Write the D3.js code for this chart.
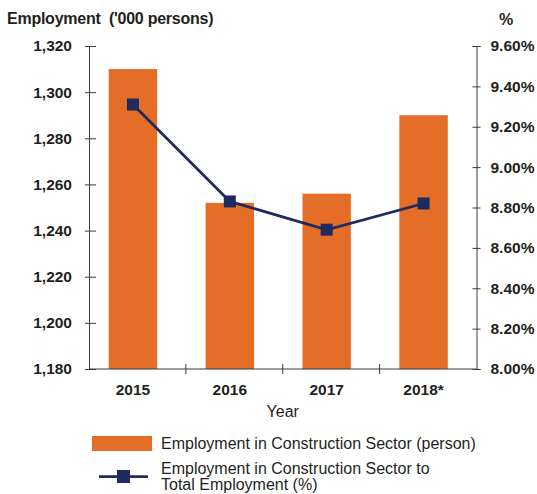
<!DOCTYPE html>
<html>
<head>
<meta charset="utf-8">
<script src="https://cdn.jsdelivr.net/npm/d3@7/dist/d3.min.js"></script>
<style>
  html, body { margin: 0; padding: 0; background: #ffffff; }
  svg { display: block; font-family: "Liberation Sans", Arial, sans-serif; }
</style>
</head>
<body>
<svg id="chart" width="537" height="494"></svg>
<script>
// Construction-sector employment by year
const years = ["2015", "2016", "2017", "2018*"];
const employment = [1310, 1252, 1256, 1290];          // '000 persons
const sharePct = [9.31, 8.83, 8.69, 8.82];            // % of total employment
const leftTicks = [1180, 1200, 1220, 1240, 1260, 1280, 1300, 1320];
const rightTicks = [8.0, 8.2, 8.4, 8.6, 8.8, 9.0, 9.2, 9.4, 9.6];

const barColor = "#E46D27";
const lineColor = "#1F2A5E";
const inkColor = "#231F20";
const axisColor = "#3a3a3a";
const tickFont = "15.5px";

const svg = d3.select("#chart");

const plot = { left: 89, right: 476.5, top: 46, bottom: 369 };

const x = d3.scaleBand().domain(years).range([plot.left, plot.right]).padding(0);
const yL = d3.scaleLinear().domain([1180, 1320]).range([plot.bottom, plot.top]);
const yR = d3.scaleLinear().domain([8.0, 9.6]).range([plot.bottom, plot.top]);

// marks sit slightly left of each category's centre
const shift = -4.5;
const cx = d => x(d) + x.bandwidth() / 2 + shift;
const barW = x.bandwidth() * 0.5;

const rows = years.map((y, i) => ({ year: y, emp: employment[i], pct: sharePct[i] }));

// bars
svg.append("g")
  .selectAll("rect")
  .data(rows)
  .join("rect")
  .attr("x", d => cx(d.year) - barW / 2)
  .attr("y", d => yL(d.emp))
  .attr("width", barW)
  .attr("height", d => yL(1180) - yL(d.emp))
  .attr("fill", barColor);

// left axis
const gL = svg.append("g")
  .attr("transform", `translate(${plot.left},0)`)
  .call(d3.axisLeft(yL).tickValues(leftTicks).tickFormat(d3.format(",")).tickSize(4).tickPadding(13));
gL.select(".domain").attr("stroke", axisColor);
gL.selectAll(".tick line").attr("x1", 7).attr("x2", -4).attr("stroke", axisColor);
gL.selectAll(".tick text")
  .attr("fill", inkColor).style("font-size", tickFont).style("font-weight", "bold")
  .style("font-family", "'Liberation Sans', Arial, sans-serif");

// right axis
const gR = svg.append("g")
  .attr("transform", `translate(${plot.right},0)`)
  .call(d3.axisRight(yR).tickValues(rightTicks).tickFormat(d => d.toFixed(2) + "%").tickSize(4).tickPadding(10));
gR.select(".domain").attr("stroke", axisColor);
gR.selectAll(".tick line").attr("x1", -4).attr("x2", 4).attr("stroke", axisColor);
gR.selectAll(".tick text")
  .attr("fill", inkColor).style("font-size", tickFont).style("font-weight", "bold")
  .style("font-family", "'Liberation Sans', Arial, sans-serif");

// bottom axis with ticks at category boundaries
const gB = svg.append("g");
gB.append("line")
  .attr("x1", plot.left).attr("x2", plot.right)
  .attr("y1", plot.bottom).attr("y2", plot.bottom)
  .attr("stroke", axisColor);
const bounds = years.slice(1).map(d => x(d));
gB.selectAll("line.tk")
  .data(bounds)
  .join("line")
  .attr("class", "tk")
  .attr("x1", d => d).attr("x2", d => d)
  .attr("y1", plot.bottom - 5).attr("y2", plot.bottom + 5)
  .attr("stroke", axisColor);
gB.selectAll("text")
  .data(years)
  .join("text")
  .attr("x", d => cx(d))
  .attr("y", 395)
  .attr("text-anchor", "middle")
  .attr("fill", inkColor)
  .style("font-size", tickFont).style("font-weight", "bold")
  .text(d => d);

// line series
const line = d3.line().x(d => cx(d.year)).y(d => yR(d.pct));
svg.append("path")
  .datum(rows)
  .attr("d", line)
  .attr("fill", "none")
  .attr("stroke", lineColor)
  .attr("stroke-width", 2.75);
const ms = 12;
svg.append("g")
  .selectAll("rect")
  .data(rows)
  .join("rect")
  .attr("x", d => cx(d.year) - ms / 2)
  .attr("y", d => yR(d.pct) - ms / 2)
  .attr("width", ms).attr("height", ms)
  .attr("fill", lineColor);

// axis titles
svg.append("text")
  .attr("x", 7).attr("y", 24)
  .attr("fill", inkColor)
  .style("font-size", "16px").style("font-weight", "bold")
  .style("letter-spacing", "-0.25px")
  .style("white-space", "pre")
  .text("Employment  ('000 persons)");
svg.append("text")
  .attr("x", 506).attr("y", 25)
  .attr("text-anchor", "middle")
  .attr("fill", inkColor)
  .style("font-size", "16px").style("font-weight", "bold")
  .text("%");
svg.append("text")
  .attr("x", (plot.left + plot.right) / 2).attr("y", 417)
  .attr("text-anchor", "middle")
  .attr("fill", inkColor)
  .style("font-size", "16px")
  .text("Year");

// legend
const lg = svg.append("g");
lg.append("rect")
  .attr("x", 92).attr("y", 436).attr("width", 60).attr("height", 15)
  .attr("fill", barColor);
lg.append("text")
  .attr("x", 161).attr("y", 448.5)
  .attr("fill", inkColor)
  .style("font-size", "16px")
  .text("Employment in Construction Sector (person)");
lg.append("line")
  .attr("x1", 99).attr("x2", 148).attr("y1", 476.5).attr("y2", 476.5)
  .attr("stroke", lineColor).attr("stroke-width", 2.75);
lg.append("rect")
  .attr("x", 117).attr("y", 470).attr("width", 13).attr("height", 13)
  .attr("fill", lineColor);
lg.append("text")
  .attr("x", 161).attr("y", 474)
  .attr("fill", inkColor)
  .style("font-size", "16px")
  .text("Employment in Construction Sector to");
lg.append("text")
  .attr("x", 161).attr("y", 490)
  .attr("fill", inkColor)
  .style("font-size", "16px")
  .text("Total Employment (%)");
</script>
</body>
</html>
